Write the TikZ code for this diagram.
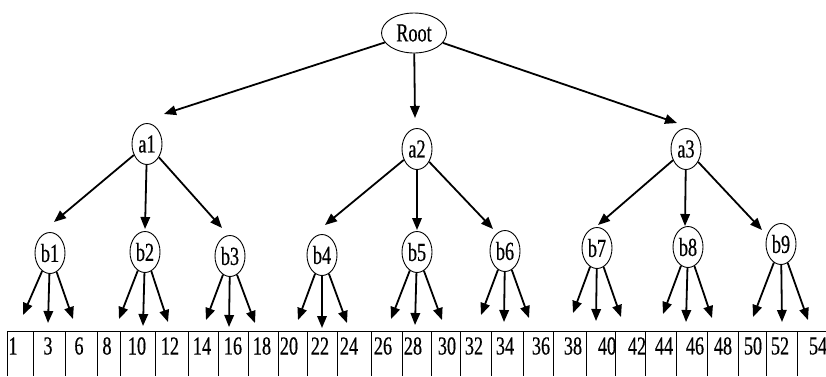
\documentclass[tikz,border=0pt]{standalone}
\usepackage{fontspec}
\newfontfamily\treefont[FakeStretch=0.7, FakeBold=0.4]{Liberation Serif}
\usepackage{tikz}
\usetikzlibrary{shapes.geometric}
\usetikzlibrary{arrows.meta}

\begin{document}
\begin{tikzpicture}[
            x = 1pt, y = -1pt, % pixel grid, y runs down
            > = {Triangle[length=12pt, width=9.5pt]}, % arrow head style
            line width = 1.8pt % arrow line style
            ]

        \tikzstyle{every node}=[font=\treefont\fontsize{26}{26}\selectfont]
        \tikzstyle{vertex}=[
            draw,
            ellipse,
            line width = 0.9pt,
            inner sep = 0pt,
            minimum width = 30pt,
            minimum height = 41pt
        ]
        \tikzstyle{grid}=[line width = 0.9pt]

        \useasboundingbox (0,0) rectangle (826,376);

        % root
        \node[vertex, minimum width = 65pt, minimum height = 40pt] (Root) at (414,33) {Root};

        % first level
        \node[vertex] (a1) at (147,144) {a1};
        \node[vertex] (a2) at (417,149) {a2};
        \node[vertex] (a3) at (686,149) {a3};

        \coordinate (r1) at (164,114);
        \coordinate (r2) at (415,118);
        \coordinate (r3) at (677,123);
        \path[->] (Root) edge (r1) edge (r2) edge (r3);

        % second level
        \node[vertex] (b1) at (50,253) {b1};
        \node[vertex] (b2) at (145,252) {b2};
        \node[vertex] (b3) at (230,256) {b3};
        \node[vertex] (b4) at (322,255) {b4};
        \node[vertex] (b5) at (417,252) {b5};
        \node[vertex] (b6) at (505,251) {b6};
        \node[vertex] (b7) at (597,248) {b7};
        \node[vertex] (b8) at (688,247) {b8};
        \node[vertex] (b9) at (781,244) {b9};

        \coordinate (p1) at (54,222);
        \coordinate (p2) at (145,229);
        \coordinate (p3) at (222,228);
        \path[->] (a1) edge (p1) edge (p2) edge (p3);

        \coordinate (p4) at (325,225);
        \coordinate (p5) at (417,230);
        \coordinate (p6) at (493,229);
        \path[->] (a2) edge (p4) edge (p5) edge (p6);

        \coordinate (p7) at (598,225);
        \coordinate (p8) at (685,226);
        \coordinate (p9) at (762,230);
        \path[->] (a3) edge (p7) edge (p8) edge (p9);

        % leaves
        \coordinate (l1) at (23,315);
        \coordinate (l2) at (48,323);
        \coordinate (l3) at (73,319);
        \path[->] (b1) edge (l1) edge (l2) edge (l3);

        \coordinate (l4) at (119,319);
        \coordinate (l5) at (143,326);
        \coordinate (l6) at (168,322);
        \path[->] (b2) edge (l4) edge (l5) edge (l6);

        \coordinate (l7) at (206,320);
        \coordinate (l8) at (229,327);
        \coordinate (l9) at (255,323);
        \path[->] (b3) edge (l7) edge (l8) edge (l9);

        \coordinate (l10) at (298,320);
        \coordinate (l11) at (322,328);
        \coordinate (l12) at (347,323);
        \path[->] (b4) edge (l10) edge (l11) edge (l12);

        \coordinate (l13) at (391,319);
        \coordinate (l14) at (415,325);
        \coordinate (l15) at (442,320);
        \path[->] (b5) edge (l13) edge (l14) edge (l15);

        \coordinate (l16) at (481,315);
        \coordinate (l17) at (504,322);
        \coordinate (l18) at (529,318);
        \path[->] (b6) edge (l16) edge (l17) edge (l18);

        \coordinate (l19) at (573,313);
        \coordinate (l20) at (596,321);
        \coordinate (l21) at (621,317);
        \path[->] (b7) edge (l19) edge (l20) edge (l21);

        \coordinate (l22) at (663,314);
        \coordinate (l23) at (686,322);
        \coordinate (l24) at (712,318);
        \path[->] (b8) edge (l22) edge (l23) edge (l24);

        \coordinate (l25) at (753,317);
        \coordinate (l26) at (782,322);
        \coordinate (l27) at (808,320);
        \path[->] (b9) edge (l25) edge (l26) edge (l27);

        % key table
        \draw[grid] (7,331) -- (826,331);
        \foreach \x in {7,33,65,97,120,155,188,218,248,278,307,337,371,402,
                        431,460,491,523,553,586,615,645,676,707,738,766,797}
            \draw[grid] (\x,331) -- (\x,376);

        \foreach \x/\k in {13/1,48/3,79/6,107/8,137/10,170/12,202/14,233/16,262/18,
                           289/20,320/22,349/24,383/26,413/28,447/30,474/32,505/34,
                           541/36,573/38,607/40,637/42,664/44,695/46,723/48,753/50,
                           780/52,818/54}
            \node[inner sep = 0pt] (k\k) at (\x,346) {\k};

\end{tikzpicture}
\end{document}
